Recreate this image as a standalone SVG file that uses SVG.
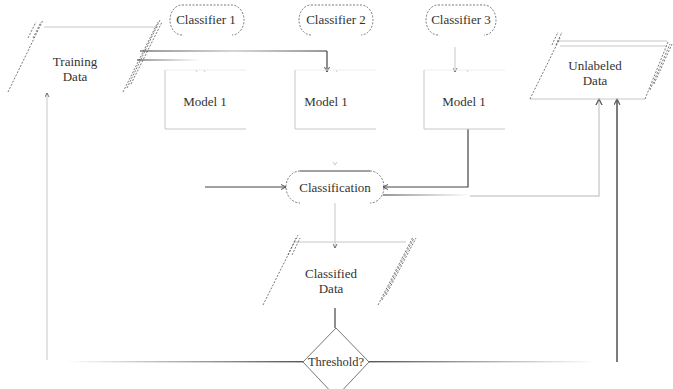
<svg xmlns="http://www.w3.org/2000/svg" width="673" height="389" viewBox="0 0 673 389">
<defs>
<style>
text{font-family:"Liberation Serif","DejaVu Serif",serif;font-size:13px;fill:#333;text-anchor:middle;dominant-baseline:central}
.dash{fill:none;stroke:#555;stroke-width:0.8;stroke-dasharray:2 1.5}
.lt{fill:none;stroke:#c8c8c8;stroke-width:1}
.ln{fill:none;stroke:#444;stroke-width:1.2}
.gl{fill:none;stroke:#cfcfcf;stroke-width:1.5}
</style>
<marker id="ah" viewBox="0 0 6 6" refX="5" refY="3" markerWidth="5" markerHeight="5" orient="auto"><path d="M0,0.5 L5,3 L0,5.5" fill="none" stroke="#555" stroke-width="1"/></marker>
<linearGradient id="gL" x1="0" x2="1" y1="0" y2="0"><stop offset="0" stop-color="#fff"/><stop offset="1" stop-color="#555"/></linearGradient>
<linearGradient id="gR" x1="0" x2="1" y1="0" y2="0"><stop offset="0" stop-color="#555"/><stop offset="1" stop-color="#fff"/></linearGradient>
<linearGradient id="gM" x1="0" x2="1" y1="0" y2="0"><stop offset="0" stop-color="#555"/><stop offset="0.5" stop-color="#bbb"/><stop offset="1" stop-color="#555"/></linearGradient>
</defs>
<rect width="673" height="389" fill="#fff"/>

<g id="connectors">
<path d="M47,360 V93" class="lt" stroke-width="1.6" marker-end="url(#ah)"/>
<rect x="140" y="50.4" width="187" height="1.2" fill="url(#gM)"/>
<path d="M327,51 V72" class="ln" marker-end="url(#ah)"/>
<rect x="137" y="59.4" width="63" height="1.2" fill="url(#gR)"/>
<path d="M455,47 V72" class="lt" marker-end="url(#ah)"/>
<path d="M196,70 l1,2 M204,70 l1,2 M336,70 l1,2 M467,70 l1,2" class="lt"/>
<path d="M205,187 H286" class="ln" marker-end="url(#ah)"/>
<path d="M468,129 V187 H383" class="ln" marker-end="url(#ah)"/>
<rect x="383" y="194.4" width="87" height="1.2" fill="url(#gR)"/>
<path d="M470,196 H599 V99" class="gl" marker-end="url(#ah)"/>
<path d="M617,362 V99" stroke="#444" stroke-width="1.4" fill="none" marker-end="url(#ah)"/>
<path d="M335,203 V248" class="lt" marker-end="url(#ah)"/>
<path d="M335,308 V328" class="ln"/>
<rect x="65" y="361" width="238" height="1.4" fill="url(#gL)"/>
<rect x="368" y="361" width="230" height="1.4" fill="url(#gR)"/>
<path d="M335,165 l-2,-3 M335,165 l2,-3" class="lt"/>
</g>

<g id="training-data">
<path d="M44,27 H158" class="lt"/>
<path d="M8,92 L43,20 M28,38 L36,22 M33,38 L41,22" class="dash"/>
<path d="M123,92 L158,22 M127,88 L160,20 M131,84 L162,22" class="dash"/>
<text x="75" y="61">Training</text>
<text x="75" y="76">Data</text>
</g>

<g id="classifier-1">
<path d="M182,5 H232 A12,15 0 0 1 232,35 M182,35 A12,15 0 0 1 182,5" class="dash"/>
<text x="206" y="19">Classifier 1</text>
</g>
<g id="classifier-2">
<path d="M311,5 H361 A12,15 0 0 1 361,35 M311,35 A12,15 0 0 1 311,5" class="dash"/>
<text x="336" y="19">Classifier 2</text>
</g>
<g id="classifier-3">
<path d="M438,5 H484 A12,15 0 0 1 484,35 M438,35 A12,15 0 0 1 438,5" class="dash"/>
<text x="461" y="19">Classifier 3</text>
</g>

<g id="model-1">
<path d="M165,70 H246" stroke="#eee" fill="none"/>
<path d="M165,70 V129 H246" class="lt" stroke="#bbb"/>
<text x="205" y="101">Model 1</text>
</g>
<g id="model-2">
<path d="M295,70 H376" stroke="#eee" fill="none"/>
<path d="M295,70 V129 H376" class="lt" stroke="#bbb"/>
<text x="326" y="101">Model 1</text>
</g>
<g id="model-3">
<path d="M424,70 H505" stroke="#eee" fill="none"/>
<path d="M424,70 V129 H505" class="lt" stroke="#bbb"/>
<text x="464" y="101">Model 1</text>
</g>

<g id="unlabeled-data">
<path d="M557,41 H667 M560,46 H667 M530,99 H645" class="lt"/>
<path d="M530,99 L560,38 M552,45 L558,32 M556,45 L562,32" class="dash"/>
<path d="M645,99 L668,42 M650,90 L670,44 M654,84 L672,44" class="dash"/>
<text x="595" y="65">Unlabeled</text>
<text x="595" y="80">Data</text>
</g>

<g id="classification">
<path d="M300,171 H370" class="ln" stroke-width="1"/>
<path d="M300,171 A14,16 0 0 0 300,203 M370,171 A14,16 0 0 1 370,203" class="dash"/>
<text x="335" y="187">Classification</text>
</g>

<g id="classified-data">
<path d="M294,242 H406" class="lt"/>
<path d="M263,305 L298,235 M288,255 L296,238 M292,255 L300,238" class="dash"/>
<path d="M378,305 L413,237 M382,300 L414,238 M386,295 L416,238" class="dash"/>
<text x="331" y="273">Classified</text>
<text x="331" y="288">Data</text>
</g>

<g id="threshold">
<path d="M336,328 L369,362 L336,397 L303,362 Z" fill="#fff" stroke="#777" stroke-width="1"/>
<text x="336" y="362" style="font-size:12.5px">Threshold?</text>
</g>
</svg>
